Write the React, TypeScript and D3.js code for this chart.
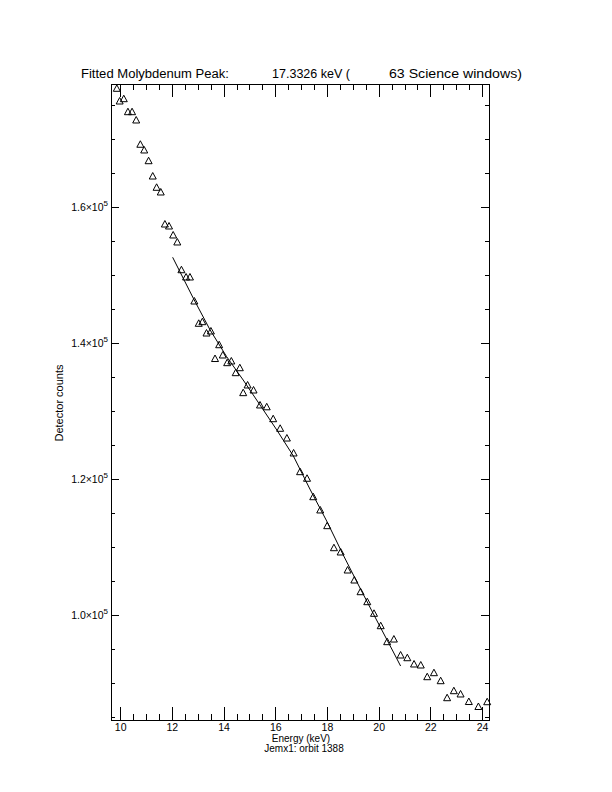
import React from "react";
import * as d3 from "d3";

const energies = [9.85, 9.96, 10.12, 10.28, 10.44, 10.60, 10.76, 10.91, 11.08, 11.24,
  11.39, 11.55, 11.71, 11.87, 12.03, 12.19, 12.35, 12.53, 12.68, 12.85,
  13.02, 13.16, 13.32, 13.49, 13.65, 13.81, 13.95, 14.12, 14.28, 14.45,
  14.61, 14.74, 14.91, 15.14, 15.39, 15.65, 15.90, 16.17, 16.43, 16.69,
  16.94, 17.21, 17.45, 17.72, 17.99, 18.25, 18.51, 18.78, 19.04, 19.28,
  19.54, 19.80, 20.06, 20.31, 20.57, 20.83, 21.09, 21.35, 21.61, 21.86,
  22.12, 22.38, 22.63, 22.89, 23.15, 23.47, 23.84, 24.18];
const counts = [177500, 175630, 175970, 174060, 174060, 172840, 169270, 168430, 166850, 164600,
  162940, 162250, 157540, 157250, 155930, 154900, 150820, 149750, 149750, 146220,
  142940, 143180, 141510, 141810, 137760, 139790, 138280, 137150, 137400, 135680,
  136410, 132740, 133870, 133130, 130930, 130660, 128910, 127500, 126070, 123870,
  121120, 120150, 117440, 115490, 113180, 109940, 109310, 106660, 105190, 103470,
  102000, 100290, 98470, 96120, 96510, 94160, 93760, 92840, 92690, 90970,
  91560, 90380, 87880, 88910, 88430, 87320, 86590, 87290];

const fitEnergy = [12.01, 12.81, 13.46, 14.10, 14.74, 15.39, 16.04, 16.68, 17.32, 17.97, 18.61, 19.26, 19.90, 20.55, 20.83];
const fitCounts = [152650, 146620, 141960, 138030, 134600, 130930, 127250, 123430, 118570, 113870, 108870, 104010, 99310, 94600, 92540];

const xMajorTicks = [10, 12, 14, 16, 18, 20, 22, 24];
const yMajorTicks = [100000, 120000, 140000, 160000];
const yTickMantissa = ["1.0", "1.2", "1.4", "1.6"];

const titleLeft = "Fitted Molybdenum Peak:";
const titleMid = "17.3326 keV (";
const titleRight = "63 Science windows)";
const xTitle = "Energy (keV)";
const subTitle = "Jemx1: orbit 1388";
const yTitle = "Detector counts";

const L = 111, R = 489, T = 84, B = 720;

export default function App() {
  const x = d3.scaleLinear().domain([9.625, 24.25]).range([L, R]);
  const y = d3.scaleLinear().domain([84603, 178132]).range([B, T]);

  const xMinor = d3.range(9.5, 24.5, 0.5).filter((v) => v > 9.625 && v < 24.25 && !xMajorTicks.includes(v));
  const yMinor = d3.range(85000, 180000, 5000).filter((v) => v > 84603 && v < 178132 && !yMajorTicks.includes(v));

  const xLenMaj = 12.7, xLenMin = 6.4, yLenMaj = 7.6, yLenMin = 3.8;

  const line = d3.line<number>().x((_, i) => x(fitEnergy[i])).y((d) => y(d));
  const font = "'Liberation Sans', Arial, sans-serif";

  const tri = (cx: number, cy: number) =>
    `M${cx - 3.5},${cy + 3}L${cx},${cy - 3.5}L${cx + 3.5},${cy + 3}Z`;

  return (
    <svg width={612} height={792} style={{ position: "absolute", left: 0, top: 0, background: "#fff" }}
      fontFamily={font}>
      <rect x={0} y={0} width={612} height={792} fill="#fff" />
      <g stroke="#000" strokeWidth={1} shapeRendering="crispEdges" fill="none">
        <rect x={L} y={T} width={R - L} height={B - T} />
        {xMajorTicks.map((v) => (
          <g key={"xm" + v}>
            <line x1={x(v)} x2={x(v)} y1={B} y2={B - xLenMaj} />
            <line x1={x(v)} x2={x(v)} y1={T} y2={T + xLenMaj} />
          </g>
        ))}
        {xMinor.map((v) => (
          <g key={"xn" + v}>
            <line x1={x(v)} x2={x(v)} y1={B} y2={B - xLenMin} />
            <line x1={x(v)} x2={x(v)} y1={T} y2={T + xLenMin} />
          </g>
        ))}
        {yMajorTicks.map((v) => (
          <g key={"ym" + v}>
            <line x1={L} x2={L + yLenMaj} y1={y(v)} y2={y(v)} />
            <line x1={R} x2={R - yLenMaj} y1={y(v)} y2={y(v)} />
          </g>
        ))}
        {yMinor.map((v) => (
          <g key={"yn" + v}>
            <line x1={L} x2={L + yLenMin} y1={y(v)} y2={y(v)} />
            <line x1={R} x2={R - yLenMin} y1={y(v)} y2={y(v)} />
          </g>
        ))}
      </g>

      <path d={line(fitCounts) || ""} fill="none" stroke="#000" strokeWidth={1} />

      <g fill="none" stroke="#000" strokeWidth={1}>
        {energies.map((e, i) => (
          <path key={i} d={tri(x(e), y(counts[i]))} />
        ))}
      </g>

      <g fontSize={10.5} fill="#000">
        {xMajorTicks.map((v) => (
          <text key={"xl" + v} x={x(v)} y={731} textAnchor="middle">{v}</text>
        ))}
        {yMajorTicks.map((v, i) => (
          <text key={"yl" + v} x={108} y={y(v) + 4} textAnchor="end">
            {yTickMantissa[i]}×10<tspan fontSize={8} dy={-5}>5</tspan>
          </text>
        ))}
      </g>

      <g fontSize={12} fill="#000">
        <text x={81} y={78} textLength={148} lengthAdjust="spacingAndGlyphs">{titleLeft}</text>
        <text x={272} y={78} textLength={78} lengthAdjust="spacingAndGlyphs">{titleMid}</text>
        <text x={389} y={78} textLength={133} lengthAdjust="spacingAndGlyphs">{titleRight}</text>
      </g>

      <text x={301} y={742} fontSize={10} textAnchor="middle">{xTitle}</text>
      <text x={304} y={752} fontSize={10} textAnchor="middle">{subTitle}</text>
      <text transform="translate(63,403) rotate(-90)" fontSize={11} textAnchor="middle">{yTitle}</text>
    </svg>
  );
}
